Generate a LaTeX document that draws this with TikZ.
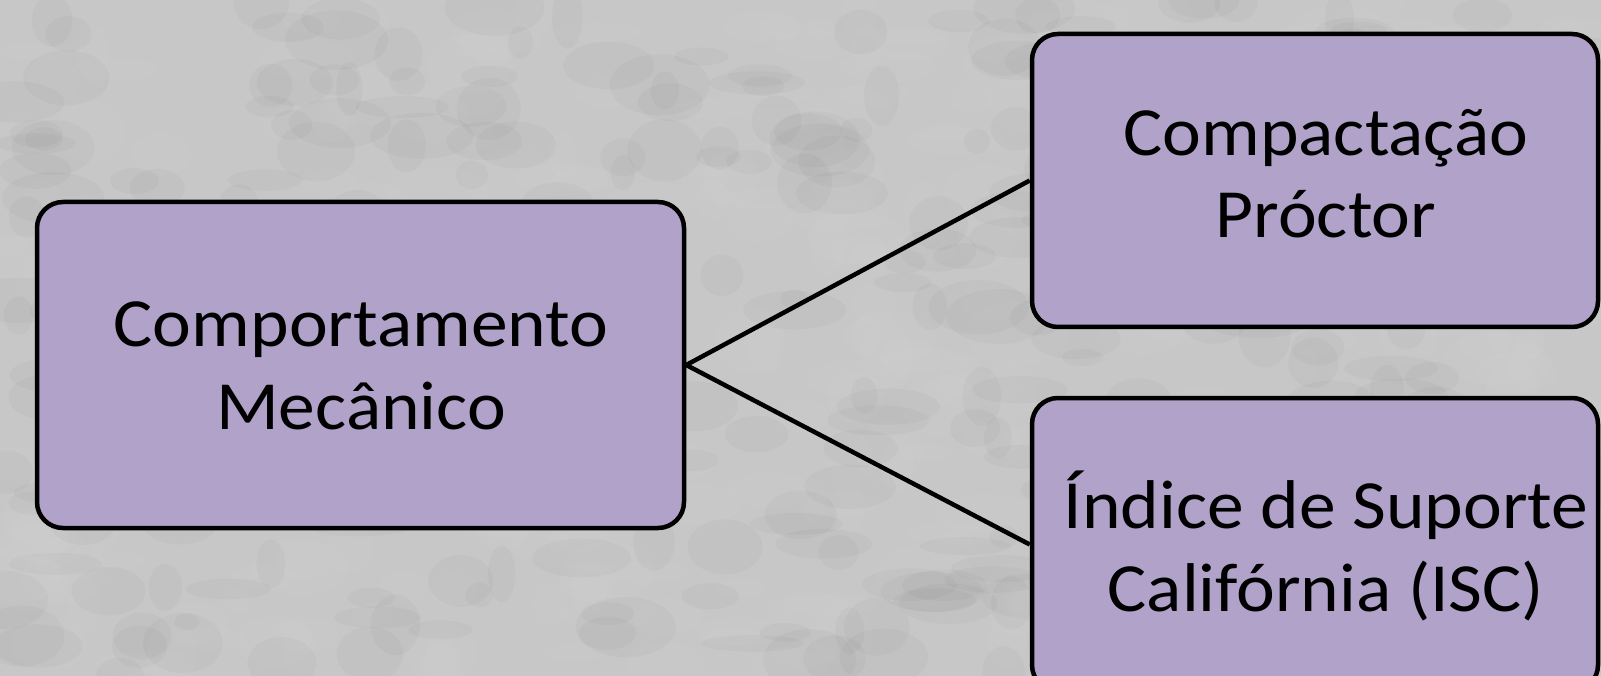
\documentclass[tikz,border=0pt]{standalone}
\usepackage{fontspec}
\setmainfont{Carlito}[FakeStretch=1.065]
\definecolor{bg}{RGB}{199,199,199}
\definecolor{boxfill}{RGB}{177,162,201}
\tikzset{
  box/.style={draw=black, line width=4.5pt, fill=boxfill, rounded corners=26pt, inner sep=0pt},
  lbl/.style={font=\fontsize{69}{82}\selectfont, anchor=base, inner sep=0pt, text=black},
  link/.style={draw=black, line width=4.5pt},
  blob/.style={opacity=0.022},
}
\begin{document}
\begin{tikzpicture}[x=1pt,y=-1pt]
\useasboundingbox (0,0) rectangle (1601,676);
\fill[bg] (0,0) rectangle (1601,676);
\begin{scope}
  \clip (0,0) rectangle (1601,676);
  \pgfmathsetseed{23}
  \foreach \i in {1,...,700}{
    \pgfmathsetmacro{\px}{rnd*1601}
    \pgfmathsetmacro{\py}{rnd*676}
    \pgfmathsetmacro{\rx}{12+rnd*40}
    \pgfmathsetmacro{\ry}{8+rnd*24}
    \pgfmathsetmacro{\sh}{rnd}
    \ifdim\sh pt<0.5pt \def\cc{white}\else\def\cc{black}\fi
    \fill[\cc, blob] (\px,\py) ellipse [x radius=\rx, y radius=\ry];
  }
\end{scope}

\node[box, minimum width=647pt, minimum height=326pt] (mech) at (360.5,365) {};
\node[box, minimum width=566pt, minimum height=293pt] (proc) at (1315,180.5) {};
\node[box, minimum width=566pt, minimum height=293pt] (isc) at (1315,544.5) {};

\draw[link] (mech.east) -- (proc.west);
\draw[link] (mech.east) -- (isc.west);

\node[lbl] (m1) at (361,346) {Comportamento};
\node[lbl] (m2) at (361,429) {Mecânico};
\node[lbl] (p1) at (1326,156) {Compactação};
\node[lbl] (p2) at (1326,238) {Próctor};
\node[lbl] (i1) at (1326,528) {Índice de Suporte};
\node[lbl] (i2) at (1326,611) {Califórnia (ISC)};
\end{tikzpicture}
\end{document}
